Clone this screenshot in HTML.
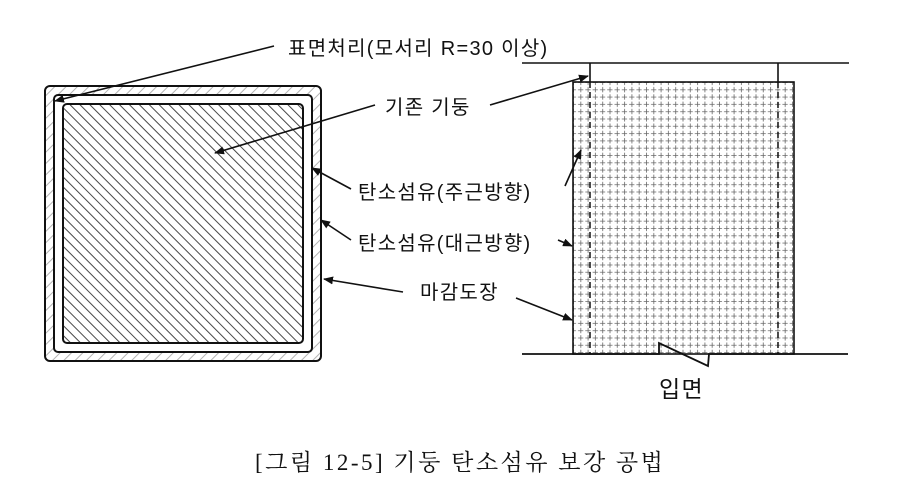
<!DOCTYPE html>
<html><head><meta charset="utf-8"><style>
body{margin:0;background:#fff;}
svg{display:block;}
text{font-family:"Liberation Sans","Noto Sans CJK KR",sans-serif;fill:#111;}
</style></head><body>
<svg width="904" height="496" viewBox="0 0 904 496" xmlns="http://www.w3.org/2000/svg">
<defs>
<pattern id="hd" width="7" height="7" patternUnits="userSpaceOnUse" patternTransform="rotate(45)">
<line x1="0" y1="3.5" x2="7" y2="3.5" stroke="#333" stroke-width="0.9"/>
</pattern>
<pattern id="hl" width="8" height="8" patternUnits="userSpaceOnUse" patternTransform="rotate(-45)">
<line x1="0" y1="4" x2="8" y2="4" stroke="#aaa" stroke-width="0.9"/>
</pattern>
<pattern id="grid" width="7.3" height="7.3" patternUnits="userSpaceOnUse" x="573" y="82">
<line x1="0" y1="0.5" x2="7.3" y2="0.5" stroke="#666" stroke-width="0.8" stroke-dasharray="3,2"/>
<line x1="0.5" y1="0" x2="0.5" y2="7.3" stroke="#666" stroke-width="0.8" stroke-dasharray="3,2"/>
</pattern>
<marker id="ar" markerWidth="10" markerHeight="8" refX="9" refY="4" orient="auto" markerUnits="userSpaceOnUse">
<path d="M0,0 L10,4 L0,8 z" fill="#111"/>
</marker>
</defs>
<rect x="45" y="86" width="276" height="275" rx="5" fill="url(#hl)" stroke="#111" stroke-width="2"/>
<rect x="54" y="95" width="258" height="257" rx="4" fill="#fff" stroke="#111" stroke-width="2"/>
<rect x="63" y="104" width="240" height="239" rx="4" fill="url(#hd)" stroke="#111" stroke-width="2"/>
<line x1="522" y1="63" x2="849" y2="63" stroke="#111" stroke-width="1.6"/>
<line x1="590" y1="63" x2="590" y2="82" stroke="#111" stroke-width="1.6"/>
<line x1="778" y1="63" x2="778" y2="82" stroke="#111" stroke-width="1.6"/>
<rect x="573" y="82" width="221" height="272" fill="url(#grid)" stroke="#111" stroke-width="1.6"/>
<line x1="590" y1="82" x2="590" y2="354" stroke="#111" stroke-width="1.5" stroke-dasharray="6,4"/>
<line x1="778" y1="82" x2="778" y2="354" stroke="#111" stroke-width="1.5" stroke-dasharray="6,4"/>
<polyline points="522,354 659,354 659,343 708,366 709,354 848,354" fill="none" stroke="#111" stroke-width="1.8"/>
<g stroke="#111" stroke-width="1.6" fill="none" marker-end="url(#ar)">
<line x1="274" y1="46" x2="55" y2="101"/>
<line x1="375" y1="105" x2="215" y2="153"/>
<line x1="490" y1="105" x2="588" y2="76"/>
<line x1="351" y1="189" x2="312" y2="168"/>
<line x1="565" y1="186" x2="581" y2="150"/>
<line x1="351" y1="240" x2="321" y2="220"/>
<line x1="558" y1="240" x2="572" y2="246"/>
<line x1="403" y1="292" x2="324" y2="279"/>
<line x1="516" y1="298" x2="572" y2="320"/>
</g>
<g font-size="20" letter-spacing="1.3">
<text x="288" y="55">표면처리(모서리 R=30 이상)</text>
<text x="385" y="114">기존 기둥</text>
<text x="358" y="199">탄소섬유(주근방향)</text>
<text x="358" y="250">탄소섬유(대근방향)</text>
<text x="420" y="299">마감도장</text>
<text x="659" y="397" font-size="23">입면</text>
</g>
<text x="255" y="470" font-size="23" letter-spacing="2.5" style="font-family:'Liberation Serif','Noto Serif CJK SC',serif">[그림 12-5] 기둥 탄소섬유 보강 공법</text>
</svg>
</body></html>
